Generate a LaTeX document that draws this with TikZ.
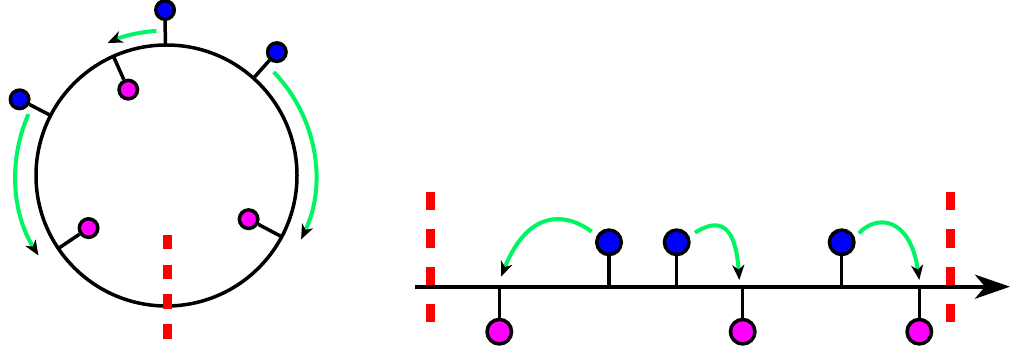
\documentclass[tikz,border=0pt]{standalone}
\usetikzlibrary{arrows.meta,calc}
\definecolor{grn}{RGB}{0,245,100}
\definecolor{myred}{RGB}{255,0,0}
\definecolor{myblue}{RGB}{0,0,255}
\definecolor{mymag}{RGB}{255,0,255}
\tikzset{
  bsmall/.style={circle,draw=black,line width=3.5pt,fill=myblue,minimum size=18.5pt,inner sep=0pt},
  msmall/.style={circle,draw=black,line width=3.5pt,fill=mymag,minimum size=18.5pt,inner sep=0pt},
  bbig/.style={circle,draw=black,line width=3.5pt,fill=myblue,minimum size=24.5pt,inner sep=0pt},
  mbig/.style={circle,draw=black,line width=3.5pt,fill=mymag,minimum size=24.5pt,inner sep=0pt},
  stem/.style={line width=3.5pt,black},
  garrow/.style={grn,line width=4pt,-{Stealth[color=black,length=15pt,width=12pt,inset=4.5pt]}},
  reddash/.style={myred,line width=8.5pt},
}
\begin{document}
\begin{tikzpicture}[x=1pt,y=1pt]
\useasboundingbox (0,0) rectangle (1011,356);
% ---------- ring ----------
\coordinate (C) at (166.5,180.5);
\draw[line width=3.5pt] (C) circle[radius=130.5pt];
% red dashed
\draw[reddash,dash pattern=on 14.5pt off 15.2pt] (167.7,121) -- (167.7,17);
% blue outer nodes
\node[bsmall] (bt) at ([shift={(90.5:165.5pt)}]C) {};
\node[bsmall] (br) at ([shift={(48.2:165.5pt)}]C) {};
\node[bsmall] (bl) at ([shift={(152.6:165.5pt)}]C) {};
\coordinate (pbt) at ([shift={(90.5:130.5pt)}]C);
\coordinate (pbr) at ([shift={(48.2:130.5pt)}]C);
\coordinate (pbl) at ([shift={(152.6:130.5pt)}]C);
\draw[stem] (pbt) -- (bt);
\draw[stem] (pbr) -- (br);
\draw[stem] (pbl) -- (bl);
% magenta inner nodes
\node[msmall] (mt) at ([shift={(114:94pt)}]C) {};
\node[msmall] (ml) at ([shift={(214:94pt)}]C) {};
\node[msmall] (mr) at ([shift={(-28:93pt)}]C) {};
\coordinate (pmt) at ([shift={(114:130.5pt)}]C);
\coordinate (pml) at ([shift={(214:130.5pt)}]C);
\coordinate (pmr) at ([shift={(-28:130.5pt)}]C);
\draw[stem] (pmt) -- (mt);
\draw[stem] (pml) -- (ml);
\draw[stem] (pmr) -- (mr);
% green arcs
\coordinate (gs1) at ([shift={(94:145pt)}]C);
\coordinate (gs2) at ([shift={(44:149pt)}]C);
\coordinate (gs3) at ([shift={(156:151pt)}]C);
\draw[garrow] (gs1) arc[start angle=94,end angle=114,radius=145pt];
\draw[garrow] (gs2) arc[start angle=44,end angle=-25.4,radius=149pt];
\draw[garrow] (gs3) arc[start angle=156,end angle=212,radius=151pt];
% ---------- line ----------
\coordinate (ax0) at (415,69.3);
\coordinate (ax1) at (1010,69.3);
\draw[reddash,dash pattern=on 18.3pt off 19pt] (430.5,164) -- (430.5,34);
\draw[reddash,dash pattern=on 18.3pt off 19pt] (950.7,164) -- (950.7,34);
\draw[line width=4pt,-{Stealth[length=35pt,width=24pt,inset=10pt]}] (ax0) -- (ax1);
\node[bbig] (b1) at (609,113.7) {};
\node[bbig] (b2) at (676.7,113.7) {};
\node[bbig] (b3) at (841.7,113.7) {};
\node[mbig] (m1) at (499.3,24.3) {};
\node[mbig] (m2) at (742.7,24.3) {};
\node[mbig] (m3) at (919.3,24.3) {};
\coordinate (q1) at (609,69.3);
\coordinate (q2) at (676.7,69.3);
\coordinate (q3) at (841.7,69.3);
\coordinate (r1) at (499.3,69.3);
\coordinate (r2) at (742.7,69.3);
\coordinate (r3) at (919.3,69.3);
\draw[stem] (q1) -- (b1);
\draw[stem] (q2) -- (b2);
\draw[stem] (q3) -- (b3);
\draw[stem] (r1) -- (m1);
\draw[stem] (r2) -- (m2);
\draw[stem] (r3) -- (m3);
% green jumps
\coordinate (s1) at (591.7,124.3);
\coordinate (t1) at (501,79.3);
\coordinate (s2) at (695,123.3);
\coordinate (t2) at (739.3,76);
\coordinate (s3) at (859,122.7);
\coordinate (t3) at (919.3,76);
\draw[garrow] (s1) .. controls (570,141) and (530,151) .. (t1);
\draw[garrow] (s2) .. controls (712,134) and (735,141) .. (t2);
\draw[garrow] (s3) .. controls (875,141) and (910,141) .. (t3);
\end{tikzpicture}
\end{document}
